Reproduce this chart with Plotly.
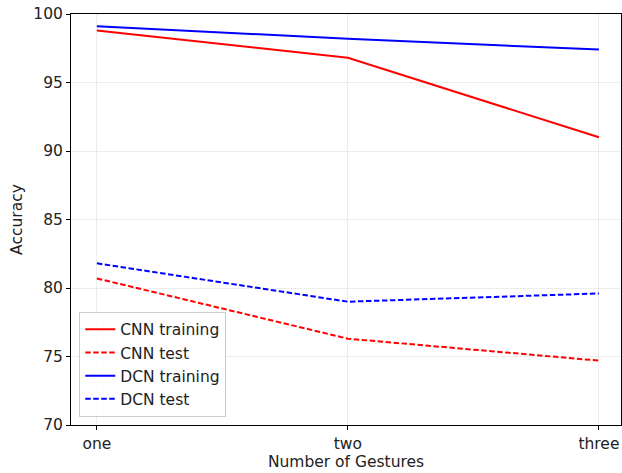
import plotly.graph_objects as go

# Accuracy by number of gestures for the two models
gestures = ["one", "two", "three"]
cnn_training = [98.8, 96.8, 91.0]
cnn_test = [80.7, 76.3, 74.7]
dcn_training = [99.1, 98.2, 97.4]
dcn_test = [81.8, 79.0, 79.6]

x_pos = list(range(len(gestures)))

series = [
    ("CNN training", cnn_training, "red", "solid"),
    ("CNN test", cnn_test, "red", "5.5px,2.5px"),
    ("DCN training", dcn_training, "blue", "solid"),
    ("DCN test", dcn_test, "blue", "5.5px,2.5px"),
]

fig = go.Figure()
for i, (name, vals, color, dash) in enumerate(series):
    fig.add_trace(go.Scatter(
        x=x_pos, y=vals, mode="lines", name=name,
        legendgroup=f"g{i}",
        line=dict(color=color, width=2, dash=dash),
    ))

font = "DejaVu Sans"
fs = 15.5
axis_common = dict(
    showline=True, linecolor="black", linewidth=1, mirror=True,
    ticks="outside", ticklen=4, tickcolor="black",
    showgrid=True, gridcolor="rgba(0,0,0,0.07)", gridwidth=1,
    zeroline=False,
    tickfont=dict(family=font, size=fs, color="#222"),
)

fig.update_layout(
    width=622, height=473,
    margin=dict(l=71, r=1, t=14, b=48),
    paper_bgcolor="white", plot_bgcolor="white",
    font=dict(family=font, size=fs, color="#222"),
    showlegend=True,
    legend=dict(
        x=0.015, y=0.02, xanchor="left", yanchor="bottom",
        bgcolor="rgba(255,255,255,0.8)", bordercolor="#ccc", borderwidth=1,
        font=dict(family=font, size=fs, color="#222"),
        traceorder="grouped", tracegroupgap=0,
    ),
    xaxis=dict(
        **axis_common,
        tickmode="array", tickvals=x_pos, ticktext=gestures,
        range=[-0.103, 2.088],
        title=dict(text="Number of Gestures", font=dict(family=font, size=fs, color="#222"), standoff=4),
    ),
    yaxis=dict(
        **axis_common,
        range=[70, 100], tickmode="array", tickvals=[70, 75, 80, 85, 90, 95, 100],
        title=dict(text="Accuracy", font=dict(family=font, size=fs, color="#222"), standoff=6),
    ),
)

fig.write_html("out.html")
